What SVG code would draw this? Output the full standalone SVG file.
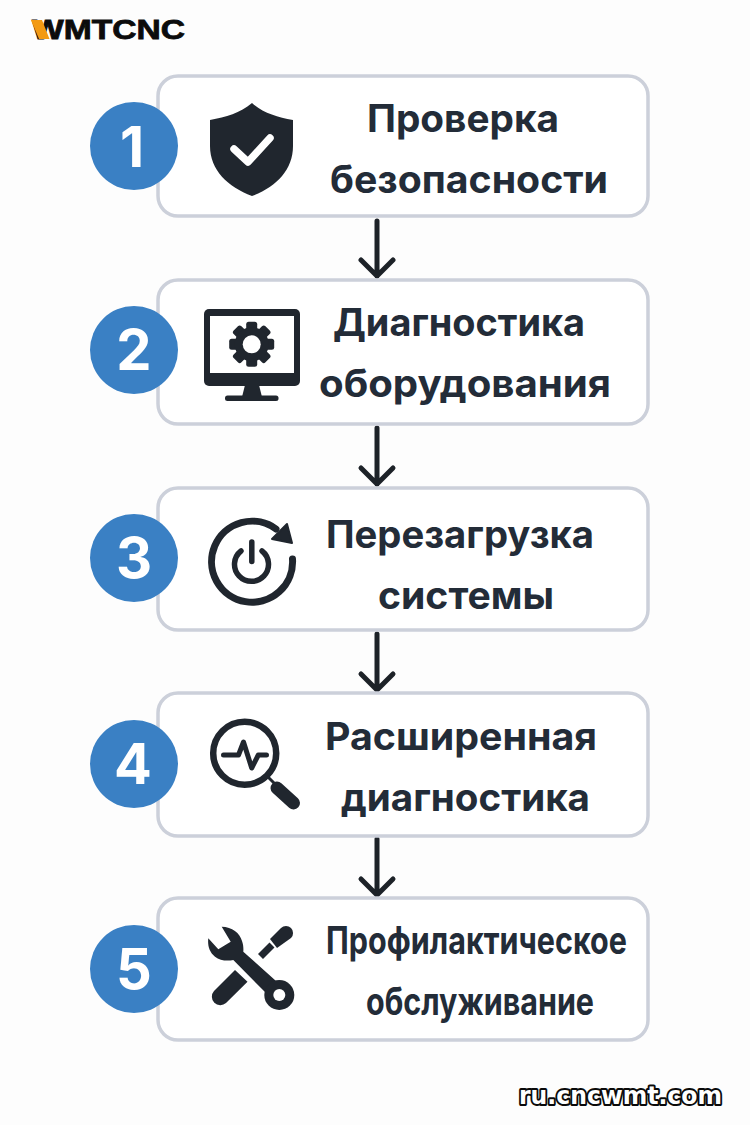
<svg xmlns="http://www.w3.org/2000/svg" width="750" height="1125" viewBox="0 0 750 1125">
<style>
.card{fill:#fff;stroke:#ccd0da;stroke-width:3.5}
.num{fill:#3a80c4}
.n{font:700 56px "Inter","Liberation Sans",sans-serif;fill:#fff;text-anchor:middle}
.t{font:700 38px "Inter","Liberation Sans",sans-serif;fill:#232c38}
.ic{fill:#20262e}
.ln{fill:none;stroke:#20262e;stroke-linecap:round;stroke-linejoin:round}
.ar{fill:none;stroke:#1d2228;stroke-width:5;stroke-linecap:round;stroke-linejoin:round}
</style>
<rect width="750" height="1125" fill="#fdfdfd"/>
<g id="logo">
<text x="32" y="39" textLength="153" lengthAdjust="spacingAndGlyphs" font-family="Liberation Sans, sans-serif" font-weight="700" font-size="27" fill="#0c0c0c" stroke="#0c0c0c" stroke-width="0.800">WMTCNC</text>
<polygon points="31,20 42,20 49.500,39 39,39" fill="#f39a12"/>
</g>
<g id="connectors">
<path class="ar" d="M377 221V276M361 260L377 276L393 260"/>
<path class="ar" d="M377 428V484M361 468L377 484L393 468"/>
<path class="ar" d="M377 634V690M361 674L377 690L393 674"/>
<path class="ar" d="M377 839V895M361 879L377 895L393 879"/>
</g>
<g id="node1">
<rect class="card" x="158" y="76" width="490" height="140" rx="20"/>
<circle class="num" cx="134" cy="146" r="44"/>
<text class="n" x="132" y="167">1</text>
<path class="ic" d="M252 103C240 113 226 117 210 120V146C210 170 228 187 252 196C276 187 293 170 293 146V120C277 117 263 113 252 103Z"/>
<path d="M234 149L248 162L270 138" fill="none" stroke="#fff" stroke-width="7.500" stroke-linecap="round" stroke-linejoin="round"/>
<text class="t" x="367" y="132" textLength="192" lengthAdjust="spacingAndGlyphs">Проверка</text>
<text class="t" x="330" y="193" textLength="278" lengthAdjust="spacingAndGlyphs">безопасности</text>
</g>
<g id="node2">
<rect class="card" x="158" y="280" width="490" height="144" rx="20"/>
<circle class="num" cx="134" cy="350" r="44"/>
<text class="n" x="134" y="370">2</text>
<rect class="ic" x="204" y="309" width="96" height="77" rx="5"/>
<rect x="210" y="316" width="84" height="57" fill="#fff"/>
<path class="ic" d="M245 385H259L262 397H242Z"/>
<rect class="ic" x="225" y="395.500" width="53.500" height="5.500" rx="2.500"/>
<g transform="translate(251.700 344.300)">
<g class="ic"><rect x="-5.500" y="-22.500" width="11" height="45" rx="2.500"/><rect x="-5.500" y="-22.500" width="11" height="45" rx="2.500" transform="rotate(45)"/><rect x="-5.500" y="-22.500" width="11" height="45" rx="2.500" transform="rotate(90)"/><rect x="-5.500" y="-22.500" width="11" height="45" rx="2.500" transform="rotate(135)"/></g>
<circle r="17" fill="#20262e"/>
<circle r="9" fill="#fff"/>
</g>
<text class="t" x="333" y="336" textLength="252" lengthAdjust="spacingAndGlyphs">Диагностика</text>
<text class="t" x="319" y="397" textLength="292" lengthAdjust="spacingAndGlyphs">оборудования</text>
</g>
<g id="node3">
<rect class="card" x="158" y="488" width="490" height="142" rx="20"/>
<circle class="num" cx="134" cy="558" r="44"/>
<text class="n" x="134" y="578">3</text>
<path class="ln" stroke-width="7" d="M292.500 559A40.500 40.500 0 1 1 276 529"/>
<path class="ic" stroke="#20262e" stroke-width="2" stroke-linejoin="round" d="M287 524L292 543L272 539Z"/>
<path class="ln" stroke-width="5.500" d="M251.800 542V561.500M241 551A17 17 0 1 0 262 551"/>
<text class="t" x="326" y="548" textLength="268" lengthAdjust="spacingAndGlyphs">Перезагрузка</text>
<text class="t" x="378" y="609" textLength="176" lengthAdjust="spacingAndGlyphs">системы</text>
</g>
<g id="node4">
<rect class="card" x="158" y="693" width="490" height="143" rx="20"/>
<circle class="num" cx="134" cy="764" r="44"/>
<text class="n" x="133" y="784">4</text>
<circle class="ln" stroke-width="6.500" cx="244.700" cy="753.300" r="31.500"/>
<path class="ln" stroke-width="5" d="M223.500 755H238.500L243.500 742L251.700 768L258.300 755H266.500"/>
<path class="ln" stroke-width="3" d="M268 777L276 785"/>
<path class="ln" stroke-width="13" d="M277 788L293.500 803"/>
<text class="t" x="325" y="750" textLength="272" lengthAdjust="spacingAndGlyphs">Расширенная</text>
<text class="t" x="341" y="811" textLength="249" lengthAdjust="spacingAndGlyphs">диагностика</text>
</g>
<g id="node5">
<rect class="card" x="158" y="898" width="490" height="142" rx="20"/>
<circle class="num" cx="134" cy="969" r="44"/>
<text class="n" x="134" y="989">5</text>
<path class="ic" d="M221.700 926.700C232 927 240 933 242 941C243.500 945 243.500 949 243.300 951.700L276 981L265 992L233.300 960C228 961 220 961 215 956.700C209 952 207.500 945 208.300 938.300L218.300 949.300L230.700 941.700Z"/>
<circle cx="279.300" cy="995" r="15" fill="#20262e"/>
<circle cx="279.300" cy="995" r="6" fill="#fff"/>
<path class="ic" d="M235 970L247.500 981.700L226 1003A8.500 8.500 0 0 1 214 991Z"/>
<path d="M260.500 956.500L272 945" fill="none" stroke="#20262e" stroke-width="7"/>
<path class="ic" d="M270 939L281 928A7 7 0 0 1 291 938L277 948Z"/>
<text class="t" x="326" y="954" textLength="301" lengthAdjust="spacingAndGlyphs">Профилактическое</text>
<text class="t" x="366" y="1015" textLength="228" lengthAdjust="spacingAndGlyphs">обслуживание</text>
</g>
<g id="footer">
<text x="519" y="1104" font-family="DejaVu Sans, sans-serif" font-weight="700" font-size="25" fill="#fff" stroke="#0a0a0a" stroke-width="4" paint-order="stroke" stroke-linejoin="round" textLength="203" lengthAdjust="spacingAndGlyphs">ru.cncwmt.com</text>
</g>
</svg>
